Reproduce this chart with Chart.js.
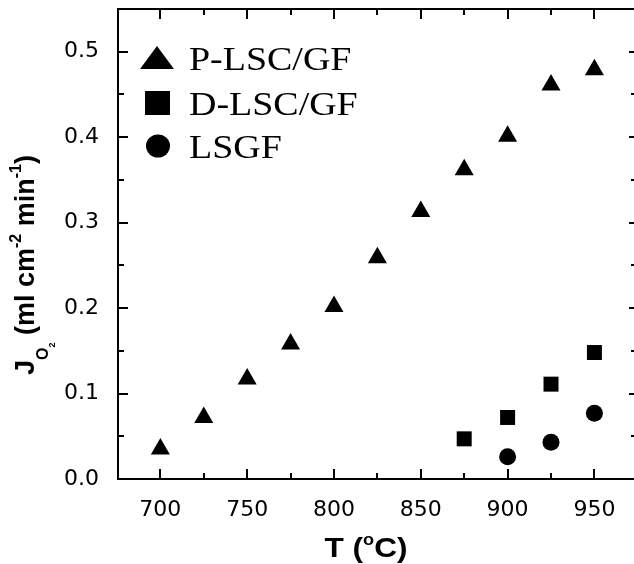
<!DOCTYPE html>
<html>
<head>
<meta charset="utf-8">
<script src="https://cdn.jsdelivr.net/npm/chart.js@4.4.1/dist/chart.umd.min.js"></script>
<style>
html, body { margin: 0; padding: 0; background: #fff; }
</style>
</head>
<body>
<canvas id="FluxChart" width="634" height="564"></canvas>
<script>
// temperatures (C) and oxygen flux (ml cm-2 min-1)
var pTemps = [700, 725, 750, 775, 800, 825, 850, 875, 900, 925, 950];
var pFlux = [0.035, 0.072, 0.117, 0.158, 0.202, 0.259, 0.313, 0.362, 0.401, 0.461, 0.479];
var dTemps = [875, 900, 925, 950];
var dFlux = [0.047, 0.072, 0.111, 0.148];
var lTemps = [900, 925, 950];
var lFlux = [0.026, 0.043, 0.077];
var SeriesName = ['P-LSC/GF', 'D-LSC/GF', 'LSGF'];

var xTicks = [700, 750, 800, 850, 900, 950];
var xMinor = [725, 775, 825, 875, 925];
var yTicks = [0.0, 0.1, 0.2, 0.3, 0.4, 0.5];
var yMinor = [0.05, 0.15, 0.25, 0.35, 0.45];

function toPoints(xs, ys) {
    return xs.map(function(x, i) { return { x: x, y: ys[i] }; });
}

// draws text pieces one after another (for sub/superscripts)
function drawPieces(ctx, pieces, x, y) {
    pieces.forEach(function(p) {
        ctx.font = 'bold ' + p.size + 'px "Liberation Sans", Arial, sans-serif';
        ctx.fillText(p.t, x, y + (p.dy || 0));
        x += ctx.measureText(p.t).width;
    });
    return x;
}
function piecesWidth(ctx, pieces) {
    var w = 0;
    pieces.forEach(function(p) {
        ctx.font = 'bold ' + p.size + 'px "Liberation Sans", Arial, sans-serif';
        w += ctx.measureText(p.t).width;
    });
    return w;
}

// fixed axis sizes, no auto padding
function fixSize(prop, size) {
    return function(s) {
        s[prop] = size;
        s.paddingTop = 0; s.paddingBottom = 0;
        s.paddingLeft = 0; s.paddingRight = 0;
    };
}

var framePlugin = {
    id: 'frame',
    afterDraw: function(chart) {
        var ctx = chart.ctx;
        var a = chart.chartArea;
        var xs = chart.scales.x, ys = chart.scales.y;
        ctx.save();
        ctx.strokeStyle = '#000';
        ctx.lineWidth = 2;
        ctx.beginPath();
        ctx.moveTo(a.right + 2, a.top);
        ctx.lineTo(a.left, a.top);
        ctx.lineTo(a.left, a.bottom);
        ctx.lineTo(a.right + 2, a.bottom);
        ctx.stroke();

        // ticks pointing inward
        ctx.beginPath();
        xTicks.concat(xMinor).forEach(function(v) {
            var len = xTicks.indexOf(v) >= 0 ? 10 : 6;
            var px = Math.round(xs.getPixelForValue(v));
            ctx.moveTo(px, a.bottom); ctx.lineTo(px, a.bottom - len);
            ctx.moveTo(px, a.top); ctx.lineTo(px, a.top + len);
        });
        yTicks.concat(yMinor).forEach(function(v) {
            var major = yTicks.indexOf(v) >= 0;
            var py = Math.round(ys.getPixelForValue(v));
            ctx.moveTo(a.left, py); ctx.lineTo(a.left + (major ? 10 : 6), py);
            ctx.moveTo(a.right, py); ctx.lineTo(a.right - (major ? 5 : 3), py);
        });
        ctx.stroke();

        // legend
        ctx.fillStyle = '#000';
        ctx.beginPath();
        ctx.moveTo(157, 46); ctx.lineTo(174, 69); ctx.lineTo(140, 69);
        ctx.closePath(); ctx.fill();
        ctx.fillRect(145, 91, 25, 24);
        ctx.beginPath();
        ctx.ellipse(158, 146, 12, 11.5, 0, 0, Math.PI * 2);
        ctx.fill();
        var base = [70, 115, 158];
        ctx.font = '33px "Liberation Serif", "Times New Roman", serif';
        ctx.textBaseline = 'alphabetic';
        ctx.textAlign = 'left';
        SeriesName.forEach(function(n, i) {
            ctx.save();
            ctx.translate(189, base[i]);
            ctx.scale(1.15, 1);
            ctx.fillText(n, 0, 0);
            ctx.restore();
        });

        // x title
        var xt = [{ t: 'T (', size: 28 }, { t: 'o', size: 16, dy: -12 }, { t: 'C)', size: 28 }];
        var w = piecesWidth(ctx, xt) * 1.13;
        ctx.save();
        ctx.translate(366 - w / 2, 557);
        ctx.scale(1.13, 1);
        drawPieces(ctx, xt, 0, 0);
        ctx.restore();

        // y title
        var yt = [
            { t: 'J', size: 27 }, { t: 'O', size: 16, dy: 14 }, { t: '2', size: 9, dy: 21 },
            { t: ' (ml cm', size: 27 }, { t: '-2', size: 16, dy: -13 },
            { t: ' min', size: 27 }, { t: '-1', size: 16, dy: -13 }, { t: ')', size: 27 }
        ];
        ctx.save();
        ctx.translate(34, 375);
        ctx.rotate(-Math.PI / 2);
        drawPieces(ctx, yt, 0, 0);
        ctx.restore();
        ctx.restore();
    }
};

var markerStyle = { backgroundColor: '#000', borderColor: '#000', borderWidth: 0 };

new Chart(document.getElementById('FluxChart'), {
    type: 'scatter',
    data: {
        datasets: [
            Object.assign({ label: SeriesName[0], data: toPoints(pTemps, pFlux), pointStyle: 'triangle', pointRadius: 11 }, markerStyle),
            Object.assign({ label: SeriesName[1], data: toPoints(dTemps, dFlux), pointStyle: 'rect', pointRadius: 10.6 }, markerStyle),
            Object.assign({ label: SeriesName[2], data: toPoints(lTemps, lFlux), pointStyle: 'circle', pointRadius: 8.5 }, markerStyle)
        ]
    },
    options: {
        responsive: false,
        animation: false,
        layout: { autoPadding: false, padding: { top: 9, right: 0, left: 0, bottom: 0 } },
        plugins: {
            legend: { display: false },
            tooltip: { enabled: false }
        },
        scales: {
            x: {
                type: 'linear',
                min: 675.6,
                max: 972.8,
                afterFit: fixSize('height', 85),
                afterBuildTicks: function(s) { s.ticks = xTicks.map(function(v) { return { value: v }; }); },
                ticks: {
                    color: '#000', padding: 10, maxRotation: 0, autoSkip: false,
                    font: { family: 'DejaVu Sans', size: 22 }
                },
                grid: { display: false },
                border: { display: false }
            },
            y: {
                min: 0,
                max: 0.55,
                afterFit: fixSize('width', 118),
                afterBuildTicks: function(s) { s.ticks = yTicks.map(function(v) { return { value: v }; }); },
                ticks: {
                    color: '#000', padding: 11,
                    font: { family: 'DejaVu Sans', size: 22 },
                    callback: function(v) { return v.toFixed(1); }
                },
                grid: { display: false },
                border: { display: false }
            }
        }
    },
    plugins: [framePlugin]
});
</script>
</body>
</html>
